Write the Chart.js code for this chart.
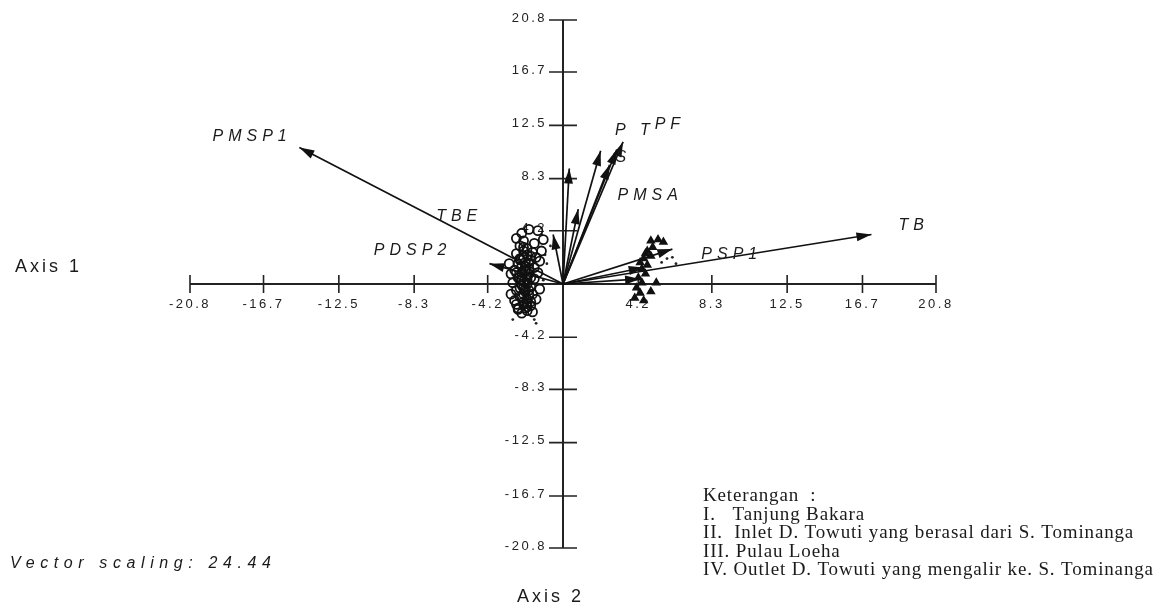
<!DOCTYPE html>
<html>
<head>
<meta charset="utf-8">
<script src="https://cdn.jsdelivr.net/npm/chart.js@4.4.1/dist/chart.umd.min.js"></script>
<style>
  html, body { margin: 0; padding: 0; background: #fff; }
  #wrap { position: relative; width: 1162px; height: 613px; }
</style>
</head>
<body>
<div id="wrap"><canvas id="myChart" width="1162" height="613"></canvas></div>
<script>
// axis ticks (same on both axes)
var tickValues = [-20.8, -16.7, -12.5, -8.3, -4.2, 4.2, 8.3, 12.5, 16.7, 20.8];
var tickLabels = ['-20.8', '-16.7', '-12.5', '-8.3', '-4.2', '4.2', '8.3', '12.5', '16.7', '20.8'];

// variable vectors (biplot arrows)
var vectorNames = ['PMSP1', 'TB', 'PSP1', 'PSP1b', 'PSP1c', 'PT', 'PF', 'PMSA', 'S', 'V1', 'V2', 'TBE', 'PDSP2'];
var vectorX = [-14.7, 17.2, 6.1, 4.5, 4.3, 3.35, 3.0, 2.1, 2.6, 0.35, 0.85, -0.55, -4.1];
var vectorY = [10.75, 3.9, 2.75, 1.3, 0.4, 11.2, 10.6, 10.5, 9.4, 9.1, 5.9, 3.9, 1.6];
var vectorText = ['PMSP1', 'TB', 'PSP1', '', '', 'P T', 'PF', 'PMSA', 'S', '', '', 'TBE', 'PDSP2'];
// where each label sits (data units)
var labelAtX = [-17.45, 19.45, 9.3, 0, 0, 3.9, 5.85, 4.75, 3.25, 0, 0, -5.9, -8.5];
var labelAtY = [11.6, 4.6, 2.3, 0, 0, 12.1, 12.6, 7.0, 10.0, 0, 0, 5.3, 2.6];

// sampling sites, group near origin-left (circles)
var siteAX = [-1.9, -1.4, -1.1, -1.6, -2.3, -2.6, -2.2, -2.4, -2.0, -1.7, -2.6, -2.2, -1.8, -2.5, -2.1,
              -1.6, -2.7, -2.3, -1.9, -2.5, -2.0, -1.6, -2.8, -2.3, -1.8, -2.6, -2.1, -1.7, -2.4, -2.0,
              -2.7, -2.2, -1.8, -2.5, -2.0, -2.3, -1.7, -2.9, -3.0, -2.9, -1.4, -1.3, -1.5, -1.3, -1.2,
              -2.1, -2.4, -1.9, -2.2, -2.6, -1.5, -2.0, -2.3, -1.8,
              -2.2, -2.0, -2.4, -1.9, -2.1, -2.3, -1.8, -2.2, -2.0, -2.4, -2.1, -1.9, -2.3, -2.2, -2.0,
              -2.5, -1.8, -2.1, -2.3, -2.0, -2.2, -1.9, -2.4, -2.1, -2.6, -2.2];
var siteAY = [4.3, 4.2, 3.5, 3.2, 4.0, 3.6, 3.4, 3.0, 2.8, 2.5, 2.4, 2.1, 1.9, 1.6, 1.4,
              1.3, 1.1, 0.9, 0.8, 0.5, 0.3, 0.4, 0.1, -0.1, -0.2, -0.5, -0.6, -0.8, -1.0, -1.2,
              -1.3, -1.6, -1.7, -1.9, -2.1, -2.3, -2.2, 0.8, 1.6, -0.8, 0.9, -0.4, 2.1, 1.8, 2.6,
              1.0, 2.0, 1.2, -0.3, -1.6, -1.2, -1.8, 0.4, 2.2,
              2.6, 2.3, 1.9, 1.6, 1.1, 0.7, 0.5, 0.2, 0.0, -0.3, -0.4, -0.9, -1.1, -1.4, -1.5,
              -2.0, -1.4, -1.9, 1.4, 0.6, -0.8, -0.5, 0.3, 1.7, 0.9, 2.9];

// sampling sites, group right of origin
var siteBX = [4.9, 5.3, 5.6, 5.0, 4.7, 4.9, 4.5, 4.7, 4.4, 4.6, 4.2, 4.4, 4.1, 4.3, 4.0, 4.5, 4.9, 5.2, 4.6, 4.3];
var siteBY = [3.4, 3.5, 3.3, 2.9, 2.6, 2.2, 2.0, 1.5, 1.2, 0.8, 0.5, 0.1, -0.3, -0.7, -1.1, -1.3, -0.6, 0.1, 2.4, 1.7];

// small stray dots
var dotX = [-1.0, -0.9, -1.1, -1.6, -1.5, -0.7, 5.8, 6.1, 5.5, 6.3, -2.8, -1.2];
var dotY = [2.3, 1.6, 0.3, -2.8, -3.1, 3.0, 2.0, 2.1, 1.7, 1.6, -2.8, 3.9];

var legendLines = [
  'Keterangan  :',
  'I.   Tanjung Bakara',
  'II.  Inlet D. Towuti yang berasal dari S. Tominanga',
  'III. Pulau Loeha',
  'IV. Outlet D. Towuti yang mengalir ke. S. Tominanga'
];

function pts(xs, ys) {
  return xs.map(function (x, i) { return { x: x, y: ys[i] }; });
}

var datasets = [];
for (var i = 0; i < vectorX.length; i++) {
  datasets.push({
    label: vectorNames[i],
    data: [{ x: 0, y: 0 }, { x: vectorX[i], y: vectorY[i] }],
    showLine: true,
    borderColor: '#111',
    borderWidth: 1.7,
    pointRadius: 0
  });
}
datasets.push({
  label: 'Sites A',
  data: pts(siteAX, siteAY),
  pointStyle: 'circle',
  pointRadius: 4.5,
  borderColor: '#111',
  borderWidth: 1.8,
  backgroundColor: 'rgba(255,255,255,0)'
});
datasets.push({
  label: 'Sites B',
  data: pts(siteBX, siteBY),
  pointStyle: 'triangle',
  pointRadius: 4,
  borderColor: '#111',
  borderWidth: 1.5,
  backgroundColor: '#111'
});
datasets.push({
  label: 'Dots',
  data: pts(dotX, dotY),
  pointRadius: 1.4,
  borderWidth: 0,
  backgroundColor: '#222'
});

var crossAxes = {
  id: 'crossAxes',
  beforeDatasetsDraw: function (chart) {
    var ctx = chart.ctx, xs = chart.scales.x, ys = chart.scales.y;
    var x0 = xs.getPixelForValue(0), y0 = ys.getPixelForValue(0);
    ctx.save();
    ctx.strokeStyle = '#222';
    ctx.lineWidth = 2;
    ctx.beginPath();
    ctx.moveTo(xs.getPixelForValue(-20.8), y0);
    ctx.lineTo(xs.getPixelForValue(20.8), y0);
    ctx.moveTo(x0, ys.getPixelForValue(20.8));
    ctx.lineTo(x0, ys.getPixelForValue(-20.8));
    ctx.stroke();
    ctx.lineWidth = 1.6;
    ctx.beginPath();
    tickValues.forEach(function (v) {
      var px = xs.getPixelForValue(v);
      ctx.moveTo(px, y0 - 9);
      ctx.lineTo(px, y0 + 9);
      var py = ys.getPixelForValue(v);
      ctx.moveTo(x0 - 14, py);
      ctx.lineTo(x0 + 14, py);
    });
    ctx.stroke();
    ctx.fillStyle = '#222';
    ctx.font = '13px "Liberation Sans", Arial, sans-serif';
    ctx.letterSpacing = '2.5px';
    ctx.textBaseline = 'middle';
    tickValues.forEach(function (v, i) {
      ctx.textAlign = 'center';
      ctx.fillText(tickLabels[i], xs.getPixelForValue(v), y0 + 20);
      ctx.textAlign = 'right';
      ctx.fillText(tickLabels[i], x0 - 16, ys.getPixelForValue(v) - 2);
    });
    ctx.restore();
  },
  afterDraw: function (chart) {
    var ctx = chart.ctx, xs = chart.scales.x, ys = chart.scales.y;
    var x0 = xs.getPixelForValue(0), y0 = ys.getPixelForValue(0);
    ctx.save();
    // arrow heads
    ctx.fillStyle = '#111';
    for (var i = 0; i < vectorX.length; i++) {
      var tx = xs.getPixelForValue(vectorX[i]), ty = ys.getPixelForValue(vectorY[i]);
      var a = Math.atan2(ty - y0, tx - x0);
      ctx.beginPath();
      ctx.moveTo(tx, ty);
      ctx.lineTo(tx - 15 * Math.cos(a) + 4.5 * Math.sin(a), ty - 15 * Math.sin(a) - 4.5 * Math.cos(a));
      ctx.lineTo(tx - 15 * Math.cos(a) - 4.5 * Math.sin(a), ty - 15 * Math.sin(a) + 4.5 * Math.cos(a));
      ctx.closePath();
      ctx.fill();
    }
    // vector labels
    ctx.fillStyle = '#1a1a1a';
    ctx.font = 'italic 16px "Liberation Sans", Arial, sans-serif';
    ctx.letterSpacing = '5px';
    ctx.textAlign = 'center';
    ctx.textBaseline = 'middle';
    for (var j = 0; j < vectorText.length; j++) {
      if (!vectorText[j]) continue;
      ctx.fillText(vectorText[j], xs.getPixelForValue(labelAtX[j]) + 2, ys.getPixelForValue(labelAtY[j]));
    }
    // axis titles
    ctx.font = '18px "Liberation Sans", Arial, sans-serif';
    ctx.letterSpacing = '3px';
    ctx.textAlign = 'left';
    ctx.fillText('Axis 1', 15, 267);
    ctx.fillText('Axis 2', 517, 597);
    ctx.font = 'italic 16px "Liberation Sans", Arial, sans-serif';
    ctx.letterSpacing = '5.6px';
    ctx.fillText('Vector scaling: 24.44', 10, 564);
    // notes
    ctx.font = '19px "Liberation Serif", "Times New Roman", serif';
    ctx.letterSpacing = '0.85px';
    legendLines.forEach(function (t, k) {
      ctx.fillText(t, 703, 496 + k * 18.6);
    });
    ctx.restore();
  }
};

var ctx = document.getElementById('myChart').getContext('2d');
var myChart = new Chart(ctx, {
  type: 'scatter',
  data: { datasets: datasets },
  options: {
    responsive: false,
    animation: false,
    layout: { padding: { left: 190, right: 226, top: 20, bottom: 65 } },
    scales: {
      x: { type: 'linear', min: -20.8, max: 20.8, display: false },
      y: { type: 'linear', min: -20.8, max: 20.8, display: false }
    },
    plugins: { legend: { display: false }, tooltip: { enabled: false } }
  },
  plugins: [crossAxes]
});
</script>
</body>
</html>
